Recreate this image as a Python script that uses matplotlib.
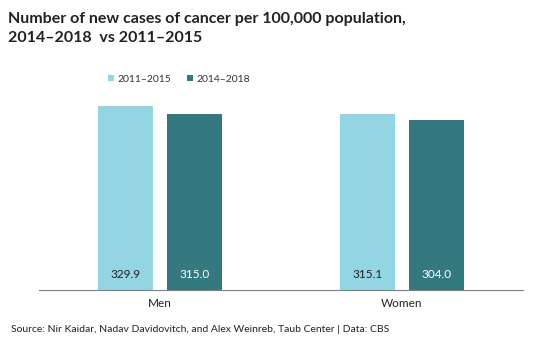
import numpy as np
import matplotlib.pyplot as plt

plt.rcParams['font.family'] = ['Lato', 'DejaVu Sans']

groups = ["Men", "Women"]
series = ["2011\u20132015", "2014\u20132018"]
values_2011_2015 = [329.9, 315.1]
values_2014_2018 = [315.0, 304.0]
colors = ["#93D5E3", "#347880"]

fig = plt.figure(figsize=(5.42, 3.52), dpi=100)
ax = fig.add_axes([0.072, 0.176, 0.893, 0.634])

x = np.arange(len(groups))
w = 0.227
off = 0.143
b1 = ax.bar(x - off, values_2011_2015, w, color=colors[0], label=series[0])
b2 = ax.bar(x + off, values_2014_2018, w, color=colors[1], label=series[1])

for bars, tc in ((b1, "#222222"), (b2, "white")):
    for r in bars:
        ax.text(r.get_x() + r.get_width() / 2, 27, f"{r.get_height():.1f}",
                ha="center", va="center", fontsize=8.5, color=tc)

ax.set_xlim(-0.5, 1.5)
ax.set_ylim(0, 400)
ax.set_yticks([])
ax.set_xticks(x)
ax.set_xticklabels(groups, fontsize=8.5, color="#222222")
ax.tick_params(axis="x", length=0, pad=6)
for s in ["top", "right", "left"]:
    ax.spines[s].set_visible(False)
ax.spines["bottom"].set_color("#7f7f7f")

fig.legend(loc="center", bbox_to_anchor=(0.33, 0.775), ncol=2, frameon=False,
           fontsize=7.5, handlelength=0.6, handleheight=0.6, columnspacing=1.5,
           handletextpad=0.3, labelcolor="#333333")

fig.text(0.015, 0.965, "Number of new cases of cancer per 100,000 population,\n2014\u20132018  vs 2011\u20132015",
         ha="left", va="top", fontsize=11.5, fontweight="bold", color="#222222", linespacing=1.4)
fig.text(0.02, 0.065, "Source: Nir Kaidar, Nadav Davidovitch, and Alex Weinreb, Taub Center | Data: CBS",
         ha="left", va="center", fontsize=7.5, color="#222222")

fig.savefig("out.png", dpi=100)
